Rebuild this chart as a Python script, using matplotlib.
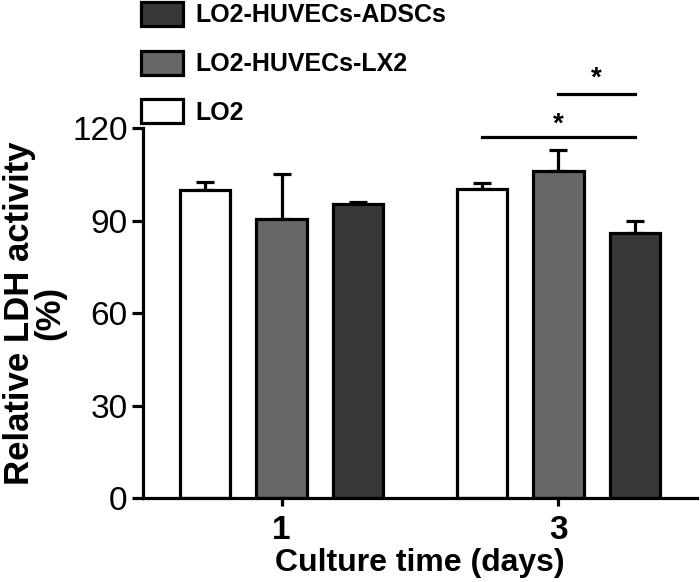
import matplotlib
matplotlib.use("Agg")
import matplotlib.pyplot as plt
from matplotlib.patches import Patch

plt.rcParams['font.family'] = ['Liberation Sans', 'DejaVu Sans']

# dados
dias = ['1', '3']
grupos = ['LO2', 'LO2-HUVECs-LX2', 'LO2-HUVECs-ADSCs']
lo2 = [100.0, 100.2]
lo2_sd = [2.5, 2.0]
lx2 = [90.5, 106.1]
lx2_sd = [14.6, 6.8]
adscs = [95.4, 86.0]
adscs_sd = [0.6, 3.8]

cores = ['white', '#676767', '#383838']
lw = 2.3

fig = plt.figure(figsize=(7, 5.82), dpi=100)
ax = fig.add_axes([0.2043, 0.1443, 0.7914, 0.6357])

pos = [0, 1]
desloc = 0.275
larg = 0.181
series = [(lo2, lo2_sd), (lx2, lx2_sd), (adscs, adscs_sd)]
for k, (vals, sd) in enumerate(series):
    xs = [p + (k - 1) * desloc for p in pos]
    ax.bar(xs, vals, width=larg, color=cores[k], edgecolor='black',
           linewidth=lw, zorder=2)
    ax.errorbar(xs, vals, yerr=[[0, 0], sd], fmt='none', ecolor='black',
                elinewidth=lw, capsize=6.5, capthick=lw, zorder=1)

# linhas de significancia (dia 3)
ax.plot([1 - desloc, 1 + desloc], [117, 117], color='black', lw=lw, clip_on=False)
ax.text(1.0, 121, '*', ha='center', va='center', fontsize=20, fontweight='bold')
ax.plot([1, 1 + desloc], [131, 131], color='black', lw=lw, clip_on=False)
ax.text(1 + desloc / 2, 136, '*', ha='center', va='center', fontsize=20,
        fontweight='bold', clip_on=False)

ax.set_xlim(-0.5, 1.5)
ax.set_ylim(0, 120)
ax.set_yticks([0, 30, 60, 90, 120])
ax.set_xticks(pos)
ax.set_xticklabels(dias, fontweight='bold')
ax.spines['top'].set_visible(False)
ax.spines['right'].set_visible(False)
ax.spines['left'].set_linewidth(lw)
ax.spines['bottom'].set_linewidth(lw)
ax.tick_params(axis='y', length=8, width=lw, labelsize=24, pad=3)
ax.tick_params(axis='x', length=6, width=lw, labelsize=24, pad=6)

ax.set_xlabel('Culture time (days)', fontsize=23, fontweight='bold', labelpad=2)
ax.set_ylabel('Relative LDH activity\n(%)', fontsize=25, fontweight='bold',
              linespacing=0.92, labelpad=4)

handles = [Patch(facecolor=cores[k], edgecolor='black', linewidth=lw) for k in [2, 1, 0]]
labels = [grupos[k] for k in [2, 1, 0]]
fig.legend(handles, labels, loc='upper left', bbox_to_anchor=(141 / 700, 1 - 2 / 582),
           frameon=False, borderpad=0, borderaxespad=0, handlelength=1.68,
           handleheight=1.1, handletextpad=0.5, labelspacing=0.92,
           prop={'size': 18, 'weight': 'bold'})

fig.savefig('out.png', dpi=100)
